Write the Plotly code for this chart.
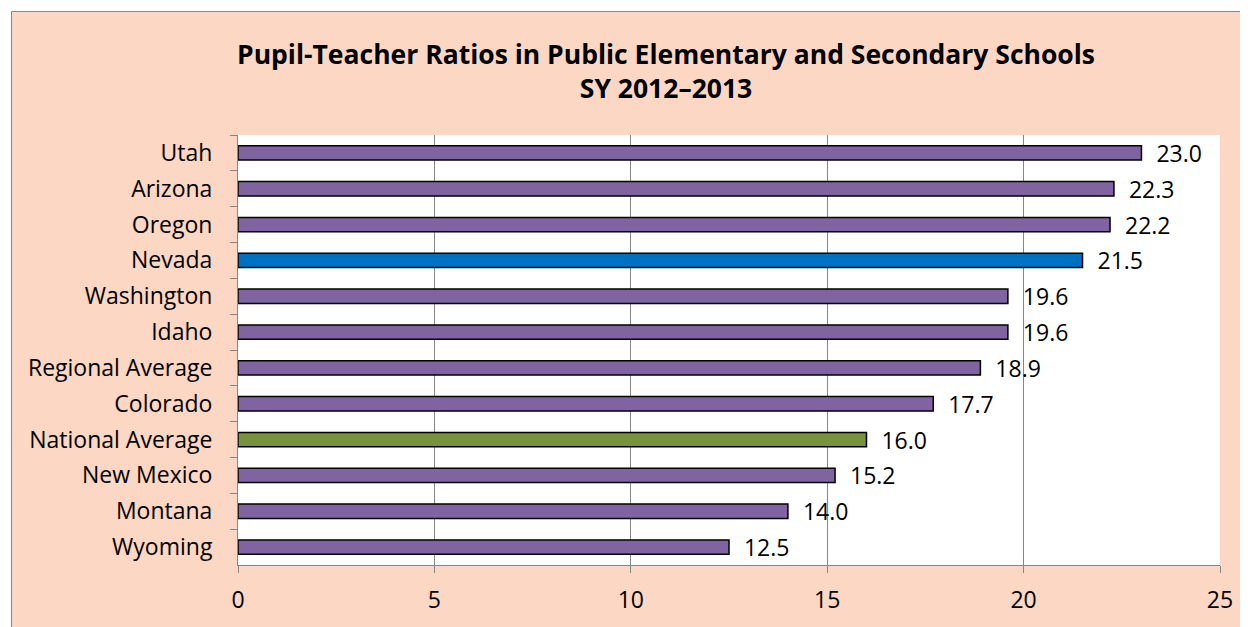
import plotly.graph_objects as go

categories = ["Utah", "Arizona", "Oregon", "Nevada", "Washington", "Idaho",
              "Regional Average", "Colorado", "National Average", "New Mexico",
              "Montana", "Wyoming"]
values = [23.0, 22.3, 22.2, 21.5, 19.6, 19.6, 18.9, 17.7, 16.0, 15.2, 14.0, 12.5]
x_ticks = [0, 5, 10, 15, 20, 25]

PURPLE = "#8064A2"
BLUE = "#0070C0"
GREEN = "#77933C"
colors = [BLUE if c == "Nevada" else GREEN if c == "National Average" else PURPLE
          for c in categories]

# page body has an 8px margin; work in page pixel coords and convert
OFF = 8
W, H = 1248 - OFF, 627 - OFF
PL, PR, PT, PB = 238, 1220, 135, 565  # plot area in page pixels
L, T = PL - OFF, PT - OFF
R, B = W - (PR - OFF), H - (PB - OFF)
pw, ph = PR - PL, PB - PT

def px_x(px):
    return (px - PL) / pw

def px_y(py):
    return (PB - py) / ph

PEACH = "#FCD7C3"
GRID = "#868686"
FONT = "Open Sans"

fig = go.Figure(go.Bar(
    x=values, y=categories, orientation="h",
    marker=dict(color=colors, line=dict(color="black", width=1.5)),
    text=["\u00a0\u00a0" + f"{v:.1f}" for v in values],
    textposition="outside", cliponaxis=False, constraintext="none",
    textfont=dict(family=FONT, size=23, color="black"),
))

fig.update_layout(
    width=W, height=H,
    margin=dict(l=L, r=R, t=T, b=B),
    paper_bgcolor=PEACH, plot_bgcolor="white",
    bargap=0.6, showlegend=False,
    font=dict(family=FONT, color="black"),
    xaxis=dict(range=[0, 25], tickvals=x_ticks, showgrid=True, gridcolor=GRID, gridwidth=1,
               showline=True, linecolor=GRID, linewidth=1, ticks="outside", ticklen=7,
               tickcolor=GRID, tickfont=dict(family=FONT, size=23, color="black"),
               ticklabelstandoff=7, zeroline=False, fixedrange=True),
    yaxis=dict(autorange="reversed", showgrid=False, showline=True, linecolor=GRID, linewidth=1,
               ticks="outside", ticklen=7, tickcolor=GRID, tickson="boundaries",
               tickfont=dict(family=FONT, size=23, color="black"), ticklabelstandoff=20),
    shapes=[
        dict(type="rect", xref="paper", yref="paper", x0=px_x(11.5), x1=px_x(1300),
             y0=px_y(700), y1=px_y(11.5), line=dict(color=GRID, width=1), layer="below"),
        dict(type="rect", xref="paper", yref="paper", x0=px_x(0), x1=px_x(11),
             y0=px_y(700), y1=px_y(0), fillcolor="white", line=dict(width=0), layer="below"),
        dict(type="rect", xref="paper", yref="paper", x0=px_x(0), x1=px_x(1300),
             y0=px_y(11), y1=px_y(0), fillcolor="white", line=dict(width=0), layer="below"),
    ],
    annotations=[dict(
        text="<b>Pupil-Teacher Ratios in Public Elementary and Secondary Schools</b><br><b>SY 2012\u20132013</b>",
        xref="paper", yref="paper", x=px_x(666), y=px_y(34), xanchor="center", yanchor="top",
        showarrow=False, font=dict(family=FONT, size=26.5, color="black"), align="center",
    )],
)

fig.write_html("out.html")
